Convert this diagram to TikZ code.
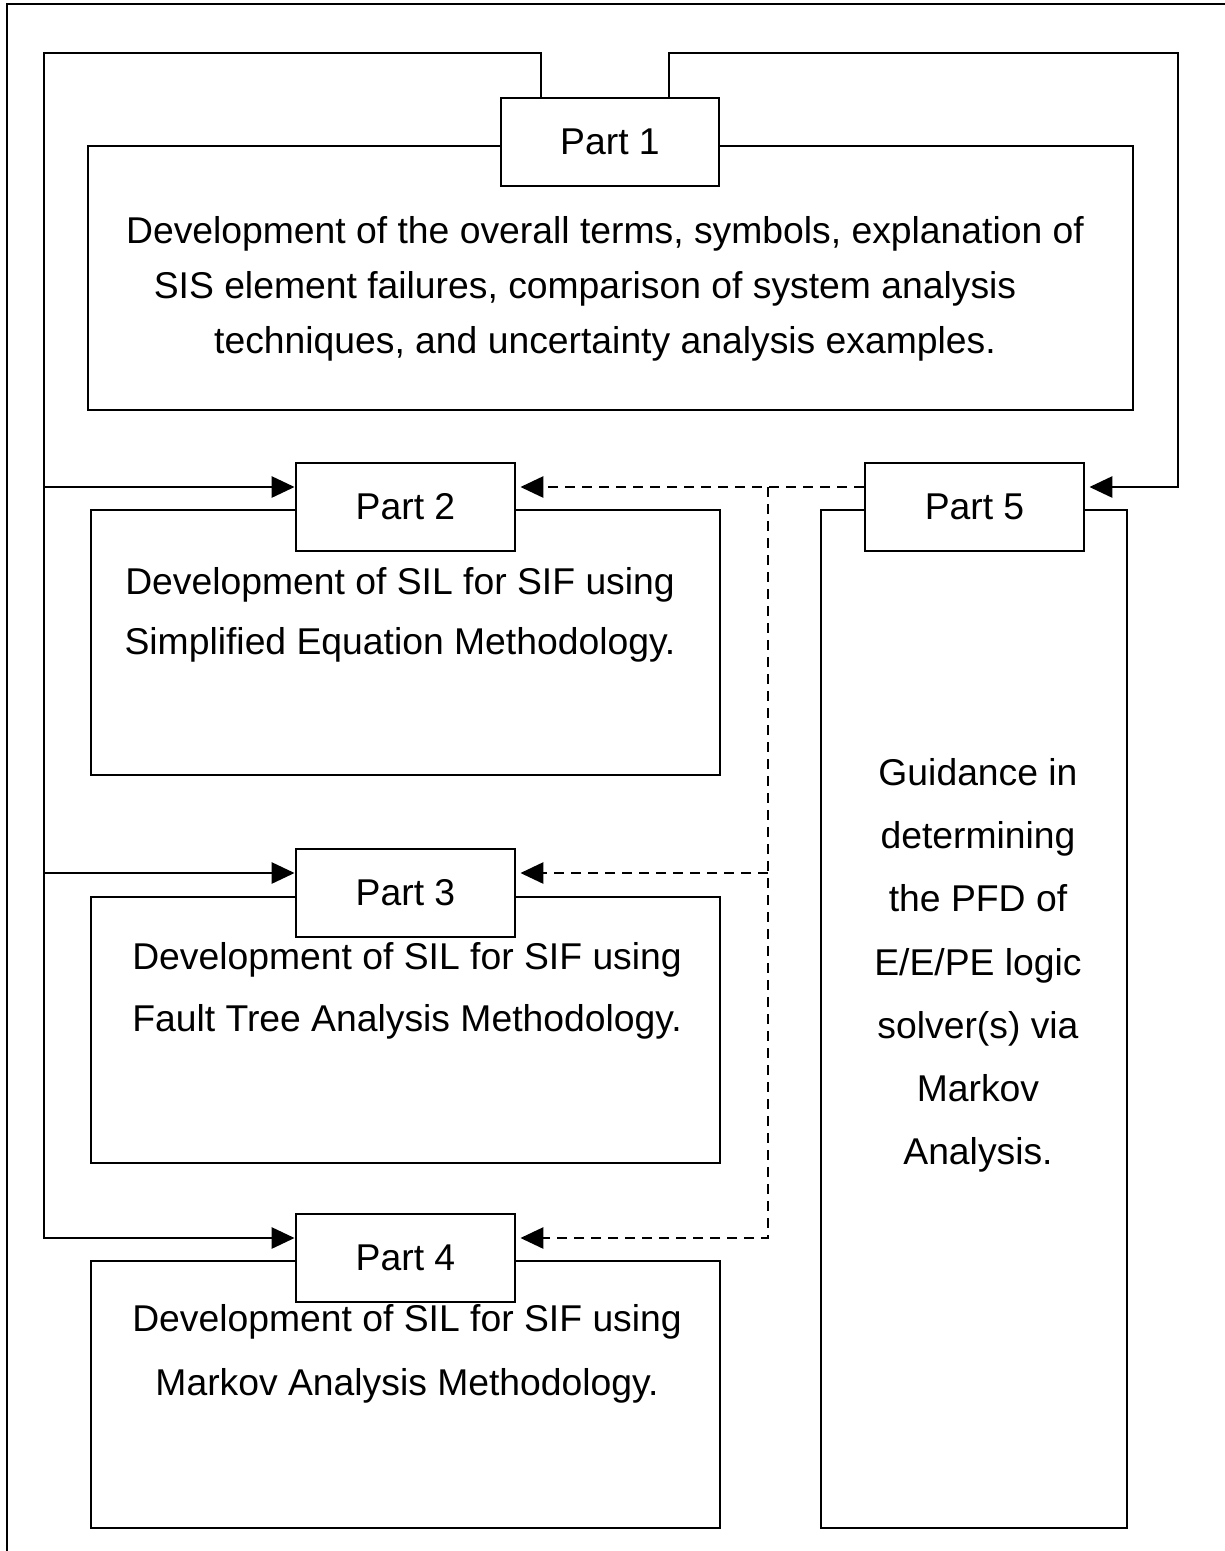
\documentclass[tikz,border=0pt]{standalone}
\usepackage{fontspec}
\setmainfont{Liberation Sans}
\usetikzlibrary{arrows.meta,calc}

\tikzset{
  ln/.style={line width=2.8pt, line join=miter},
  bigbox/.style={ln, draw, inner sep=0pt, anchor=center},
  partbox/.style={ln, draw, fill=white, inner sep=0pt, minimum width=219pt, minimum height=88pt,
    font=\fontsize{37.3}{44}\selectfont},
  body/.style={inner sep=0pt, align=center},
  arr/.style={ln, -{Triangle[length=23pt,width=21pt]}},
  dsh/.style={ln, dash pattern=on 10pt off 7pt},
}

\begin{document}
\begin{tikzpicture}[x=1pt, y=-1pt]
  % page extent
  \useasboundingbox (0,0) rectangle (1225,1551);

  % outer frame (top and left edges)
  \draw[ln] (7,1551) -- (7,4) -- (1225,4);

  % content boxes
  \node[bigbox, minimum width=1045pt, minimum height=264pt] (b1) at (610.5,278) {};
  \node[bigbox, minimum width=629pt, minimum height=265pt] (b2) at (405.5,642.5) {};
  \node[bigbox, minimum width=629pt, minimum height=266pt] (b3) at (405.5,1030) {};
  \node[bigbox, minimum width=629pt, minimum height=267pt] (b4) at (405.5,1394.5) {};
  \node[bigbox, minimum width=306pt, minimum height=1018pt] (b5) at (974,1019) {};

  % descriptions
  \node[body, font=\fontsize{37.3}{55}\selectfont] (t1) at (605,289)
    {Development of the overall terms, symbols, explanation of\\
     SIS element failures, comparison of system analysis\rule{40pt}{0pt}\\
     techniques, and uncertainty analysis examples.};
  \node[body, font=\fontsize{37.3}{60}\selectfont] (t2) at (400,615)
    {Development of SIL for SIF using\\Simplified Equation Methodology.};
  \node[body, font=\fontsize{37.3}{62}\selectfont] (t3) at (407,991)
    {Development of SIL for SIF using\\Fault Tree Analysis Methodology.};
  \node[body, font=\fontsize{37.3}{64}\selectfont] (t4) at (407,1354)
    {Development of SIL for SIF using\\Markov Analysis Methodology.};
  \node[body, font=\fontsize{37.3}{63.2}\selectfont] (t5) at (978,965.5)
    {Guidance in\\determining\\the PFD of\\E/E/PE logic\\solver(s) via\\Markov\\Analysis.};

  % part labels
  \node[partbox, minimum width=218pt] (s1) at (610,142) {Part 1};
  \node[partbox] (s2) at (405.5,507) {Part 2};
  \node[partbox] (s3) at (405.5,893) {Part 3};
  \node[partbox] (s4) at (405.5,1258) {Part 4};
  \node[partbox] (s5) at (974.5,507) {Part 5};

  % bus corners
  \coordinate (lb) at (44,53);
  \coordinate (rb) at (1178,53);
  \coordinate (dv) at (768,487);

  % Part 1 feeds Parts 2, 3 and 4 (left) and Part 5 (right)
  \draw[arr] ([xshift=-69pt]s1.north) |- (lb) |- ([yshift=20pt]s4.west);
  \draw[arr] ([yshift=20pt]s2.west -| lb) -- ([yshift=20pt]s2.west);
  \draw[arr] ([yshift=20pt]s3.west -| lb) -- ([yshift=20pt]s3.west);
  \draw[arr] ([xshift=59pt]s1.north) |- (rb) |- ([yshift=20pt,xshift=4pt]s5.east);

  % Part 5 informs Parts 2, 3 and 4
  \draw[dsh, arr] ([yshift=20pt]s5.west) -- ([yshift=20pt,xshift=4pt]s2.east);
  \draw[dsh, arr] (dv) |- ([yshift=20pt,xshift=4pt]s4.east);
  \draw[dsh, arr] ([yshift=20pt]s3.east -| dv) -- ([yshift=20pt,xshift=4pt]s3.east);
\end{tikzpicture}
\end{document}
